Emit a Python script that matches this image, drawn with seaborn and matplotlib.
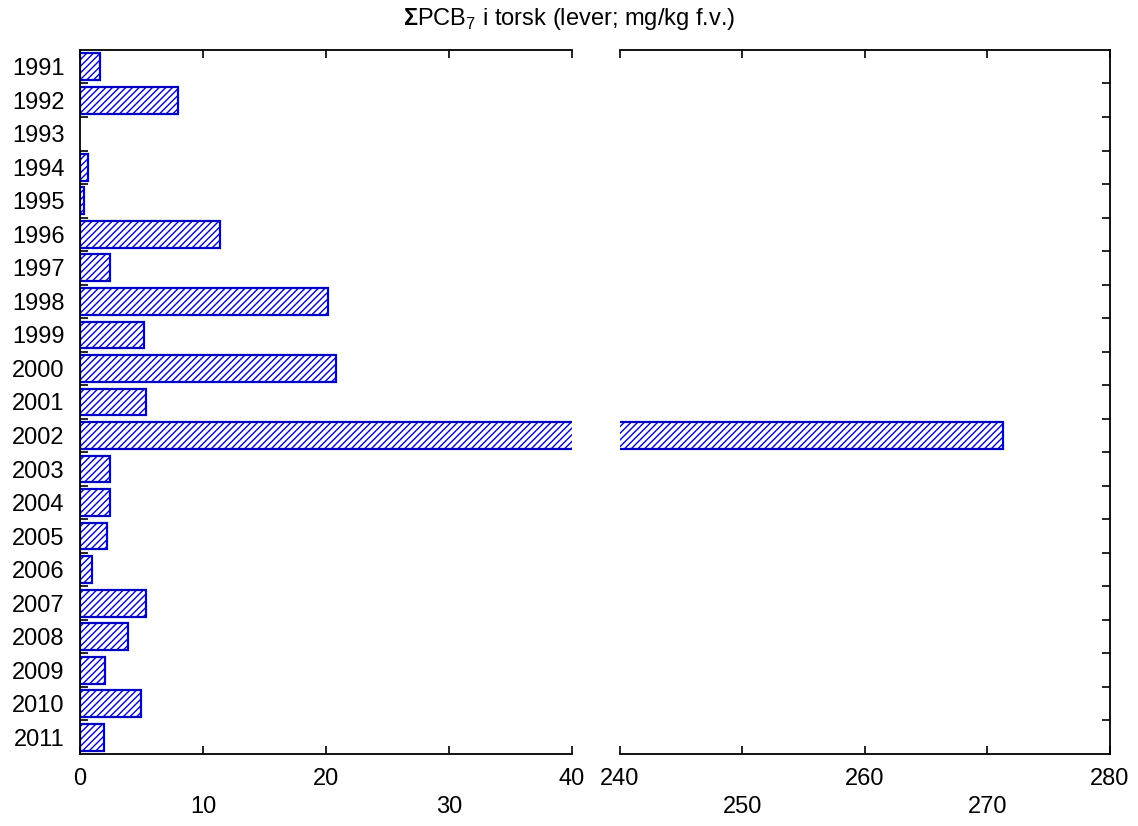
import numpy as np
import pandas as pd
import seaborn as sns
import matplotlib.pyplot as plt
from matplotlib.ticker import FixedLocator

# data
years = [str(y) for y in range(1991, 2012)]
pcb7 = [1.6, 8.0, np.nan, 0.65, 0.3, 11.4, 2.4, 20.2, 5.2, 20.8, 5.4,
        271.3, 2.45, 2.45, 2.2, 0.95, 5.4, 3.9, 2.05, 5.0, 1.95]
left_ticks = [0, 10, 20, 30, 40]
left_labels = ["0", "\n10", "20", "\n30", "40"]
right_ticks = [240, 250, 260, 270, 280]
right_labels = ["240", "\n250", "260", "\n270", "280"]
title = r"$\mathbf{\Sigma}$PCB$_7$ i torsk (lever; mg/kg f.v.)"

df = pd.DataFrame({"year": years, "value": pcb7})

sns.set_style("ticks", rc={"axes.edgecolor": "black", "text.color": "black",
                           "xtick.color": "black", "ytick.color": "black"})
plt.rcParams["font.family"] = ["Liberation Sans", "DejaVu Sans"]
plt.rcParams["mathtext.fontset"] = "custom"
plt.rcParams["mathtext.rm"] = "Liberation Sans"
plt.rcParams["mathtext.bf"] = "Liberation Sans:bold"
plt.rcParams["hatch.linewidth"] = 1.0

blue = "#0000c8"
fig = plt.figure(figsize=(11.38, 8.26), dpi=100)
ax1 = fig.add_axes([0.0703, 0.0872, 0.4323, 0.8523])
ax2 = fig.add_axes([0.5448, 0.0872, 0.4306, 0.8523])

for ax in (ax1, ax2):
    sns.barplot(data=df, x="value", y="year", order=years, ax=ax,
                color="white", edgecolor=blue, linewidth=1.6, hatch="/////",
                width=0.8, saturation=1, errorbar=None)
    ax.set_xlabel("")
    ax.set_ylabel("")
    ax.set_ylim(20.5, -0.5)
    for s in ax.spines.values():
        s.set_linewidth(1.3)
    ax.yaxis.set_minor_locator(FixedLocator(np.arange(0.5, 20, 1.0)))
    ax.tick_params(axis="x", which="major", direction="in", length=6, width=1.2,
                   top=True, bottom=True, labelsize=17, pad=10)
    # break marks at 40 / 240
    ax.tick_params(axis="x", which="minor", direction="inout", length=12, width=1.3,
                   top=True, bottom=True)

ax1.set_xlim(0, 40)
ax1.set_xticks(left_ticks)
ax1.set_xticklabels(left_labels)
ax1.xaxis.set_minor_locator(FixedLocator([40]))
ax1.spines["right"].set_visible(False)
ax1.tick_params(axis="y", which="major", length=0, labelsize=17, pad=11)
ax1.tick_params(axis="y", which="minor", direction="in", length=6, width=1.2, left=True)

ax2.set_xlim(240, 280)
ax2.set_xticks(right_ticks)
ax2.set_xticklabels(right_labels)
ax2.xaxis.set_minor_locator(FixedLocator([240]))
ax2.spines["left"].set_visible(False)
ax2.tick_params(axis="y", which="major", length=0, labelleft=False, left=False)
ax2.tick_params(axis="y", which="minor", direction="in", length=6, width=1.2,
                left=False, right=True)

for ax in (ax1, ax2):
    for lab in ax.get_xticklabels():
        lab.set_linespacing(1.35)

fig.text(0.5, 1 - 19 / 826, title, ha="center", va="center", fontsize=17)

fig.savefig("out.png", dpi=100)
